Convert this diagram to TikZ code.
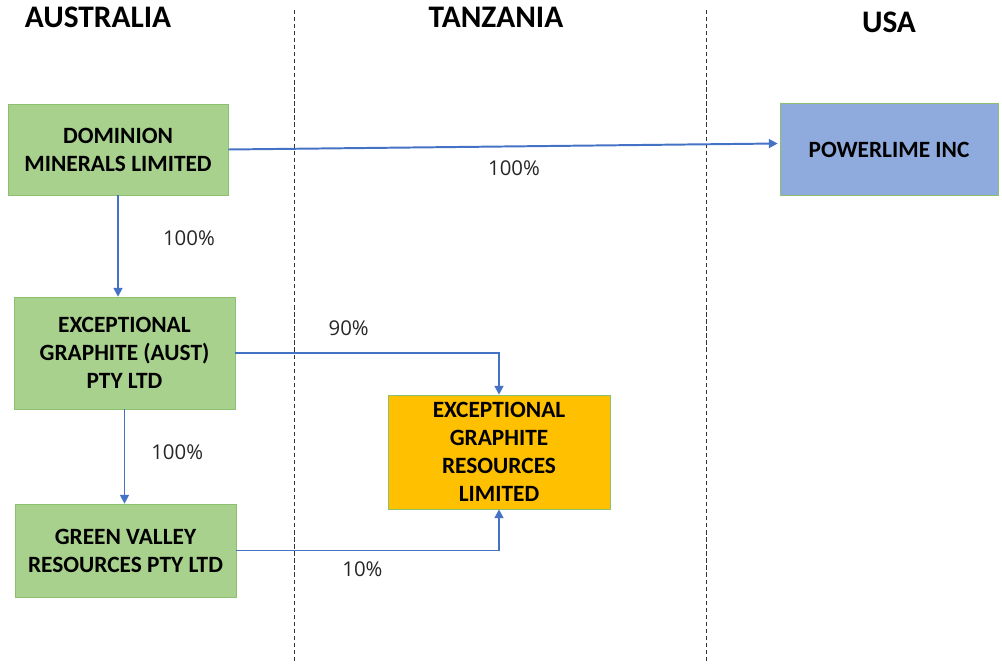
\documentclass[tikz,border=0pt]{standalone}
\usepackage{fontspec}
\setmainfont{Carlito}
\newfontfamily\sharefont{Open Sans}
\usepackage{tikz}
\usetikzlibrary{arrows.meta, positioning, calc}
\definecolor{ownblue}{HTML}{4472C4}
\definecolor{entgreen}{HTML}{A9D18E}
\definecolor{entgreenline}{HTML}{8CBF6E}
\definecolor{entblue}{HTML}{8FAADC}
\definecolor{entorange}{HTML}{FFC000}
\tikzset{
  entity/.style={rectangle, draw=entgreenline, fill=entgreen, align=center,
    font=\fontsize{16.6}{20}\selectfont\bfseries, inner sep=2pt},
  country/.style={font=\fontsize{22.3}{26}\selectfont\bfseries},
  share/.style={text=black!85, font=\sharefont\fontsize{14.5}{18}\selectfont},
  border/.style={densely dashed, thin, black!80},
  own/.style={-{Triangle[length=2.2mm, width=2.2mm]}, line width=1.4pt, ownblue},
}
\begin{document}
\begin{tikzpicture}[x=0.025cm, y=-0.025cm]
  \useasboundingbox (0,0) rectangle (1002,664);
  % country headings and borders
  \node[country] (aus) at (98,17) {AUSTRALIA};
  \node[country] (tza) at (496,17) {TANZANIA};
  \node[country] (usa) at (889,22) {USA};
  \coordinate (b1top) at (294,10);
  \coordinate (b1bot) at (294,664);
  \coordinate (b2top) at (706,10);
  \coordinate (b2bot) at (706,664);
  \draw[border] (b1top) -- (b1bot);
  \draw[border] (b2top) -- (b2bot);

  % entities
  \node[entity, minimum width=5.5cm, minimum height=2.275cm] (dom) at (118,149.5) {DOMINION\\MINERALS LIMITED};
  \node[entity, minimum width=5.45cm, minimum height=2.3cm, fill=entblue] (pow) at (889,149.5) {POWERLIME INC};
  \node[entity, minimum width=5.525cm, minimum height=2.8cm] (ega) at (124.5,353) {EXCEPTIONAL\\GRAPHITE (AUST)\\PTY LTD};
  \node[entity, minimum width=5.525cm, minimum height=2.325cm] (gvr) at (125.5,550.5) {GREEN VALLEY\\RESOURCES PTY LTD};
  \node[entity, minimum width=5.55cm, minimum height=2.85cm, fill=entorange] (egr) at (499,452) {EXCEPTIONAL\\GRAPHITE\\RESOURCES\\LIMITED};

  % ownership
  \coordinate (powin) at ($(pow.west)+(-2,-6)$);
  \draw[own] (dom.east) -- node[share, below, pos=0.52, yshift=-6pt] {100\%} (powin);
  \draw[own] (dom.south) -- node[share, right=28pt, pos=0.42] {100\%} (dom.south |- ega.north);
  \draw[own] (ega.south) -- node[share, right=15pt, pos=0.45] {100\%} (ega.south |- gvr.north);
  \draw[own] (ega.east) -| node[share, above, pos=0.215, yshift=8pt] {90\%} (egr.north);
  \draw[own] (gvr.east) -| node[share, below, pos=0.24, yshift=-4pt] {10\%} (egr.south);
\end{tikzpicture}
\end{document}
